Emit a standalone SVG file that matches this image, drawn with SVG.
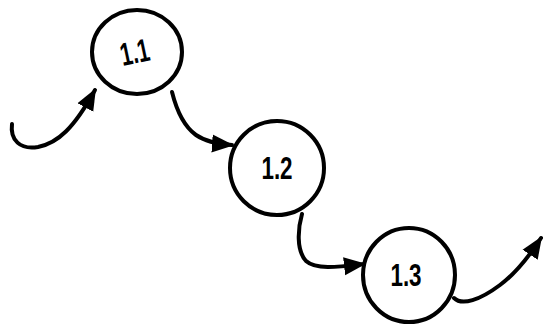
<svg xmlns="http://www.w3.org/2000/svg" width="543" height="325" viewBox="0 0 543 325">
<style>
.node{fill:#fff;stroke:#000;stroke-width:4}
.lbl{font-family:"Liberation Sans",Arial,sans-serif;font-weight:bold;font-size:28px;fill:#000;text-anchor:middle}
.edge{fill:none;stroke:#000;stroke-width:4;stroke-linecap:round}
</style>
<defs>
<marker id="ah" markerUnits="userSpaceOnUse" markerWidth="24" markerHeight="20" refX="20" refY="10" orient="auto">
<path d="M0,1 L22,10 L0,19 Z" fill="#000"/>
</marker>
</defs>
<g id="connectors">
<path class="edge" d="M12,124 C10,140 20,150 38,147 C58,143 74,128 95,90" marker-end="url(#ah)"/>
<path class="edge" d="M172,92 C176,108 182,125 196,135 C206,142 218,144 232,145" marker-end="url(#ah)"/>
<path class="edge" d="M302,214 C298,228 296,250 306,261 C316,270 338,267 364,264" marker-end="url(#ah)"/>
<path class="edge" d="M454,298 C462,306 480,300 500,285 C515,274 528,258 541,238" marker-end="url(#ah)"/>
</g>
<g id="n1">
<ellipse class="node" cx="137" cy="52" rx="45" ry="42"/>
<text class="lbl" x="0" y="0" transform="translate(137,63) rotate(-12) scale(0.75,1.15)">1.1</text>
</g>
<g id="n2">
<circle class="node" cx="277" cy="168" r="47"/>
<text class="lbl" x="0" y="0" transform="translate(277,179) scale(0.8,1.1)">1.2</text>
</g>
<g id="n3">
<ellipse class="node" cx="409" cy="275" rx="46" ry="47"/>
<text class="lbl" x="0" y="0" transform="translate(406,286) scale(0.8,1.1)">1.3</text>
</g>
</svg>
